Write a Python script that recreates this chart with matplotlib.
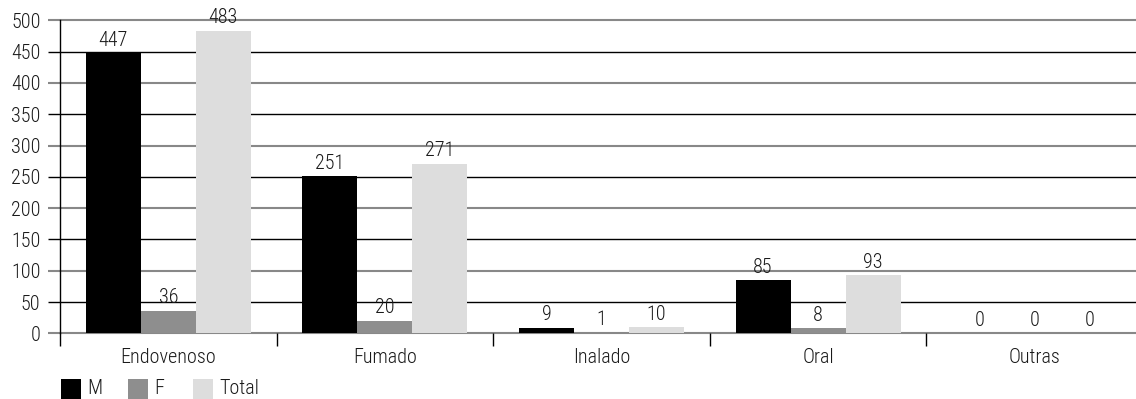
import matplotlib
matplotlib.use("Agg")
import matplotlib.pyplot as plt
from matplotlib import font_manager
from matplotlib.patches import Rectangle
import numpy as np

categories = ["Endovenoso", "Fumado", "Inalado", "Oral", "Outras"]
series_names = ["M", "F", "Total"]
m_values = [447, 251, 9, 85, 0]
f_values = [36, 20, 1, 8, 0]
total_values = [483, 271, 10, 93, 0]
y_ticks = [0, 50, 100, 150, 200, 250, 300, 350, 400, 450, 500]

colors = ["#000000", "#8e8e8e", "#dddddd"]

available = {f.name for f in font_manager.fontManager.ttflist}
family = "DejaVu Sans"
for cand in ["Roboto Condensed", "Liberation Sans Narrow", "Open Sans Condensed"]:
    if cand in available:
        family = cand
        break
plt.rcParams["font.family"] = [family, "DejaVu Sans"]
plt.rcParams["font.weight"] = "light"
fs = 14.5
txt_col = "#1a1a1a"

W, H = 1136, 399
fig = plt.figure(figsize=(W / 100, H / 100), dpi=100)
# axes spans beyond right edge so five equal category slots fit
left_px, right_px = 60, 1143
bottom_px, top_px = 333.3, 20.3
slot_px = (right_px - left_px) / 5
ax = fig.add_axes([left_px / W, 1 - bottom_px / H,
                   (right_px - left_px) / W, (bottom_px - top_px) / H])
ax.set_xlim(0, len(categories))
ax.set_ylim(0, 500)

# alternating gridlines: grey at hundreds, black at fifties
for y in y_ticks:
    major = y % 100 == 0
    col = "#888888" if major else "#000000"
    lw = 1.5 if major else 1.0
    ax.plot([-12 / slot_px, len(categories)], [y, y], color=col, lw=lw,
            clip_on=False, zorder=0.5, solid_capstyle="butt")

x = np.arange(len(categories)) + 0.5
bw = 55 / slot_px
series = [m_values, f_values, total_values]
for i, (vals, col) in enumerate(zip(series, colors)):
    pos = x + (i - 1) * bw
    ax.bar(pos, vals, width=bw, color=col, zorder=2)
    for px_, v in zip(pos, vals):
        ax.annotate(str(v), (px_, v), xytext=(0, 2.5), textcoords="offset points",
                    ha="center", va="bottom", fontsize=fs, color=txt_col)

for s in ["top", "right", "bottom"]:
    ax.spines[s].set_visible(False)
ax.spines["left"].set_color("#000000")
ax.spines["left"].set_linewidth(1.0)
ax.spines["left"].set_bounds(0, 500)

ax.set_yticks(y_ticks)
ax.set_yticklabels([str(v) for v in y_ticks], fontsize=fs, color=txt_col)
ax.tick_params(axis="y", length=0, pad=14)

ax.set_xticks(np.arange(len(categories) + 1))
ax.set_xticklabels([""] * (len(categories) + 1))
ax.tick_params(axis="x", length=9, width=1.0, color="#000000", direction="out")
for xi, c in zip(x, categories):
    ax.text(xi, -38, c, ha="center", va="center", fontsize=fs, color=txt_col)

# legend row along the bottom
legend_x = [61, 128, 193]
for lx, name, col in zip(legend_x, series_names, colors):
    fig.patches.append(Rectangle((lx / W, 0), 20 / W, 20 / H, transform=fig.transFigure,
                                 facecolor=col, edgecolor="none"))
    fig.text((lx + 26) / W, 10 / H, name, ha="left", va="center",
             fontsize=fs, color=txt_col)

fig.savefig("out.png", dpi=100)
